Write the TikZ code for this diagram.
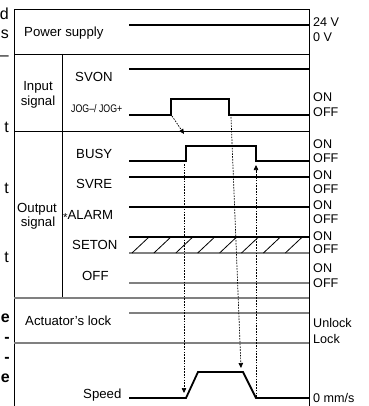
\documentclass[tikz,border=0pt]{standalone}
\usepackage{fontspec}
\setmainfont{Liberation Sans}
\usetikzlibrary{arrows.meta,positioning}

\begin{document}
\begin{tikzpicture}[x=1pt,y=-1pt,
  frame/.style={line width=0.9pt},
  greyline/.style={line width=1.2pt, black!50},
  sig/.style={line width=1.8pt},
  greysig/.style={line width=1.8pt, black!50},
  hatch/.style={line width=0.8pt},
  timing/.style={line width=0.7pt, dash pattern=on 1.6pt off 1.2pt, -{Triangle[length=5pt,width=4.5pt]}},
  lbl/.style={anchor=base west, inner sep=0pt, font=\fontsize{13.2}{15}\selectfont},
  grp/.style={anchor=base, inner sep=0pt, font=\fontsize{13.2}{15}\selectfont},
  lvl/.style={anchor=base west, inner sep=0pt, font=\fontsize{12.6}{15}\selectfont},
  frag/.style={anchor=base east, inner sep=0pt, font=\fontsize{16}{20}\selectfont}]

\useasboundingbox (0,0) rectangle (368,406);

% Fragments of the neighbouring page text
\foreach \t/\y [count=\i] in {d/20, s/39, --/61, t/133, t/193, t/262}
  \node[frag] (frag\i) at (9,\y) {\t};
\foreach \t/\y [count=\i] in {e/322, -/342, -/362, e/382}
  \node[frag, font=\fontsize{16}{20}\selectfont\bfseries] (bfrag\i) at (10,\y) {\t};

% Frame and row separators
\draw[frame] (14,410) -- (14,9) -- (309,9) -- (309,410);
\draw[frame] (14,54) -- (309,54);
\draw[frame] (14,131) -- (309,131);
\draw[frame] (62,54) -- (62,298);
\draw[greyline] (14,298) -- (309,298);
\draw[greyline] (14,343) -- (309,343);

% Row labels
\node[lbl] (power) at (24,37) {Power supply};
\node[grp] (input) at (38,91) {Input};
\node[grp] (inputb) at (38,106) {signal};
\node[lbl] (svon) at (75,82) {SVON};
\node[lbl, font=\fontsize{11}{13}\selectfont] (jog) at (71,113) {\scalebox{0.8}[1]{JOG–/ JOG+}};
\node[grp] (output) at (37,212) {Output};
\node[grp] (outputb) at (38,226) {signal};
\node[lbl] (busy) at (76,158) {BUSY};
\node[lbl] (svre) at (76,188) {SVRE};
\node[lbl] (alarm) at (63,219) {\raisebox{-2.5pt}{\fontsize{11.5}{11}\selectfont *}ALARM};
\node[lbl] (seton) at (72,249) {SETON};
\node[lbl] (offsig) at (82,280) {OFF};
\node[lbl] (lock) at (25,325) {Actuator's lock};
\node[lbl] (speed) at (83,398) {Speed};

% Level labels on the right
\foreach \t/\y [count=\i] in {24 V/27, 0 V/42, ON/102, OFF/117, ON/148, OFF/162,
    ON/179, OFF/193, ON/209, OFF/223, ON/240, OFF/253, ON/272, OFF/287,
    Unlock/327, Lock/343, {0 mm/s}/402}
  \node[lvl] (lvl\i) at (313,\y) {\t};

% Signals
\draw[sig] (129,25) -- (309,25);
\draw[sig] (129,69) -- (309,69);
\draw[sig] (129,115) -- (171,115) -- (171,99) -- (229,99) -- (229,115) -- (309,115);
\draw[sig] (129,161) -- (186,161) -- (186,146) -- (256,146) -- (256,161) -- (309,161);
\draw[sig] (129,177) -- (309,177);
\draw[sig] (129,207) -- (309,207);
\draw[sig] (129,237) -- (309,237);
\draw[greysig] (129,253) -- (309,253);
\foreach \k in {0,...,7}
  \draw[hatch] ({132+21.9*\k},253) -- ++(17,-16);
\draw[greysig] (129,283) -- (309,283);
\draw[greysig] (129,313) -- (309,313);
\draw[sig] (129,398) -- (186,398) -- (198,372) -- (243,372) -- (256,398) -- (309,398);

% Timing arrows
\coordinate (jogrise) at (172,116);
\coordinate (busyhit) at (184,134);
\coordinate (busyrise) at (184,164);
\coordinate (accel) at (184,393);
\coordinate (jogfall) at (231,117);
\coordinate (decel) at (241,368);
\coordinate (stop) at (256,397);
\coordinate (busyfall) at (256,165);
\draw[timing] (jogrise) -- (busyhit);
\draw[timing] (busyrise) -- (accel);
\draw[timing] (jogfall) -- (decel);
\draw[timing] (stop) -- (busyfall);

\end{tikzpicture}
\end{document}
